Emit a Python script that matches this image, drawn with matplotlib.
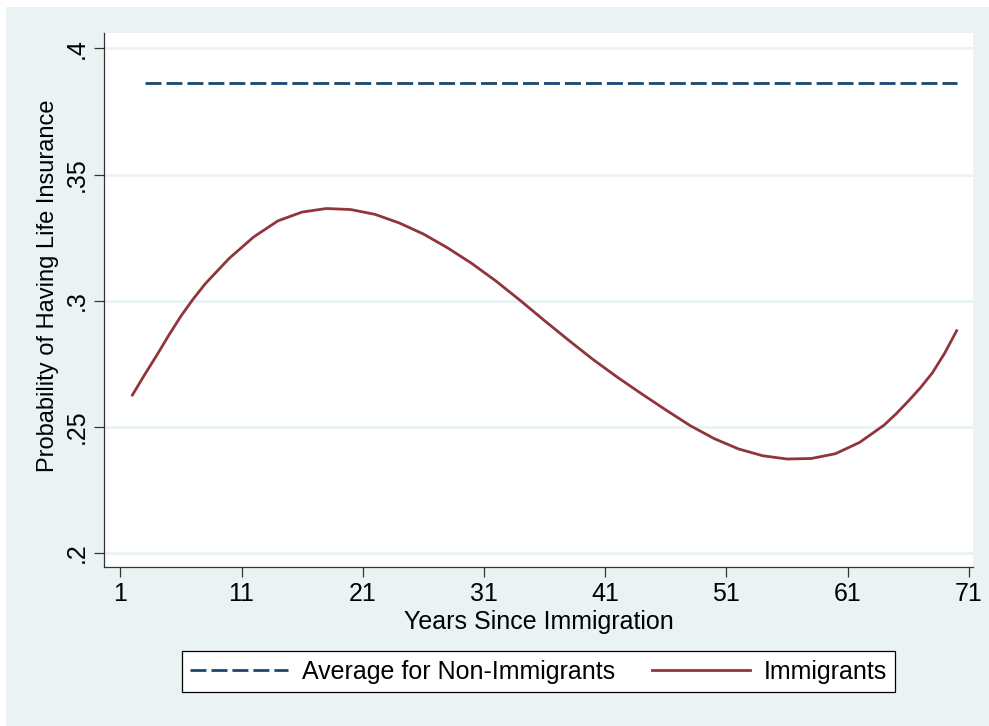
import numpy as np
import matplotlib
matplotlib.use("Agg")
import matplotlib.pyplot as plt
from matplotlib.patches import Rectangle

plt.rcParams['font.family'] = ['Liberation Sans', 'DejaVu Sans']
plt.rcParams['lines.scale_dashes'] = False

# years since immigration and predicted probability
years = [2, 3, 4, 5, 6, 7, 8, 10, 12, 14, 16, 18, 20, 22, 24, 26, 28, 30,
         32, 34, 36, 38, 40, 42, 44, 46, 48, 50, 52, 54, 56, 58, 60, 62,
         64, 65, 66, 67, 68, 69, 70]
prob_imm = [0.2625, 0.2705, 0.2782, 0.2862, 0.2938, 0.3005, 0.3066, 0.3168,
            0.3252, 0.3316, 0.3351, 0.3365, 0.3361, 0.3342, 0.3308, 0.3264,
            0.3209, 0.3147, 0.3077, 0.3000, 0.2920, 0.2842, 0.2766, 0.2696,
            0.2630, 0.2566, 0.2504, 0.2452, 0.2411, 0.2384, 0.2371, 0.2373,
            0.2392, 0.2437, 0.2505, 0.2550, 0.2600, 0.2653, 0.2713, 0.2790,
            0.2880]

# non-immigrant average (flat)
avg_years = [3, 70]
avg_nonimm = 0.3862

xticks = [1, 11, 21, 31, 41, 51, 61, 71]
yticks = [0.2, 0.25, 0.3, 0.35, 0.4]
ytick_labels = ['.2', '.25', '.3', '.35', '.4']

navy = '#1a476f'
maroon = '#90353b'
bg = '#eaf2f3'

fig = plt.figure(figsize=(9.89, 7.26), dpi=100, facecolor='white')
fig.patches.append(Rectangle((6/989, 0), 1 - 6/989, 1 - 7/726,
                             transform=fig.transFigure, facecolor=bg,
                             edgecolor='none', zorder=-10))

ax = fig.add_axes([104/989, 1 - 567/726, (973 - 104)/989, (567 - 33)/726])
ax.set_facecolor('white')

l1, = ax.plot(avg_years, [avg_nonimm, avg_nonimm], color=navy, lw=2,
              dashes=(11.5, 3.6), label='Average for Non-Immigrants')
l2, = ax.plot(years, prob_imm, color=maroon, lw=2, label='Immigrants')

ax.set_xlim(-0.345, 71.35)
ax.set_ylim(0.19425, 0.40615)
ax.set_xticks(xticks)
ax.set_yticks(yticks)
ax.set_yticklabels(ytick_labels, rotation=90, va='center')
ax.tick_params(axis='both', labelsize=18, length=7.2, width=0.9,
               color='#333333')
ax.tick_params(axis='x', pad=3.6)
ax.tick_params(axis='y', pad=4)
ax.grid(axis='y', color=bg, lw=2)
ax.set_axisbelow(True)

for s in ['top', 'right']:
    ax.spines[s].set_visible(False)
for s in ['left', 'bottom']:
    ax.spines[s].set_color('#333333')
    ax.spines[s].set_linewidth(0.9)

ax.set_xlabel('Years Since Immigration', fontsize=18, labelpad=3)
fig.text(48/989, 1 - 286/726, 'Probability of Having Life Insurance',
         rotation=90, ha='center', va='center', fontsize=17)

leg = fig.legend(handles=[l1, l2], loc='center', ncol=2,
                 bbox_to_anchor=(538.5/989, 1 - 671.5/726), fontsize=18,
                 frameon=True, fancybox=False, framealpha=1,
                 handlelength=3.9, handletextpad=0.55, columnspacing=1.5,
                 borderpad=0.35)
leg.get_frame().set_edgecolor('black')
leg.get_frame().set_linewidth(0.9)

fig.savefig('out.png', dpi=100, facecolor='white')
